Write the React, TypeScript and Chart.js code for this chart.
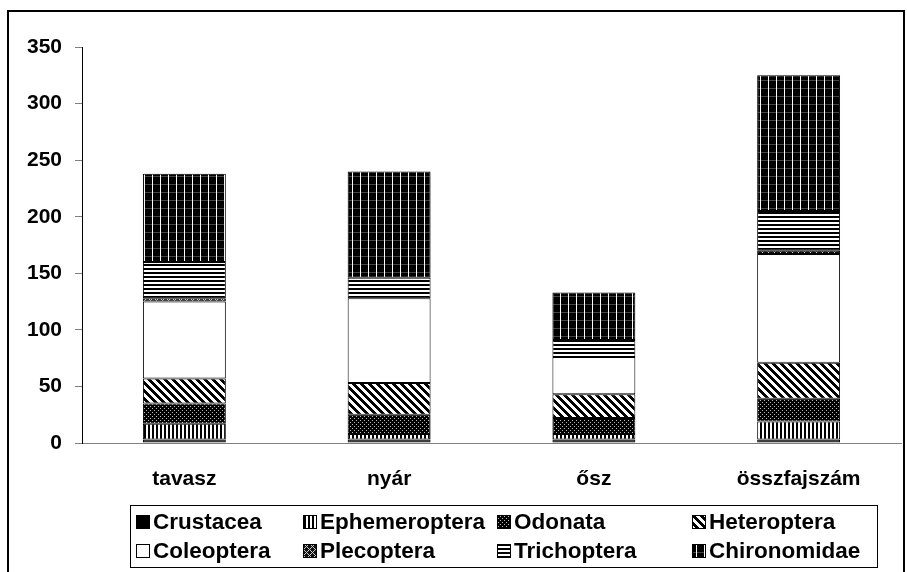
import React, { useEffect, useRef } from 'react';
import { Chart, registerables } from 'chart.js';

Chart.register(...registerables);

const categories = ['tavasz', 'nyár', 'ősz', 'összfajszám'];
const seriesNames = ['Crustacea', 'Ephemeroptera', 'Odonata', 'Heteroptera', 'Coleoptera', 'Plecoptera', 'Trichoptera', 'Chironomidae'];
const crustacea = [3, 3, 3, 3];
const ephemeroptera = [14, 5, 5, 16];
const odonata = [18, 17, 14, 20];
const heteroptera = [22, 28, 21, 32];
const coleoptera = [68, 75, 33, 96];
const plecoptera = [3, 0, 0, 3];
const trichoptera = [32, 18, 15, 35];
const chironomidae = [78, 94, 42, 120];
const yTickValues = [0, 50, 100, 150, 200, 250, 300, 350];

const seriesValues = [crustacea, ephemeroptera, odonata, heteroptera, coleoptera, plecoptera, trichoptera, chironomidae];

const FONT = '"Liberation Sans", Arial, sans-serif';

function makePattern(kind: string): CanvasPattern | string {
  const c = document.createElement('canvas');
  const ctx = c.getContext('2d')!;
  const px = (x: number, y: number, col: string) => { ctx.fillStyle = col; ctx.fillRect(x, y, 1, 1); };
  if (kind === 'solid') return '#000000';
  if (kind === 'white') return '#ffffff';
  if (kind === 'vert') {
    c.width = 4; c.height = 4;
    ctx.fillStyle = '#fff'; ctx.fillRect(0, 0, 4, 4);
    ctx.fillStyle = '#000'; ctx.fillRect(0, 0, 2, 4);
  } else if (kind === 'dots') {
    c.width = 4; c.height = 4;
    ctx.fillStyle = '#000'; ctx.fillRect(0, 0, 4, 4);
    px(0, 0, '#bbb'); px(2, 2, '#bbb');
  } else if (kind === 'diag') {
    c.width = 8; c.height = 8;
    for (let y = 0; y < 8; y++) for (let x = 0; x < 8; x++) {
      px(x, y, ((x - y + 16) % 8) < 4 ? '#000' : '#fff');
    }
  } else if (kind === 'check') {
    c.width = 6; c.height = 6;
    for (let y = 0; y < 6; y++) for (let x = 0; x < 6; x++) {
      const w = ((x + y) % 6 === 0) || (((x - y) + 12) % 6 === 0);
      px(x, y, w ? '#ccc' : '#111');
    }
  } else if (kind === 'horiz') {
    c.width = 4; c.height = 4;
    ctx.fillStyle = '#fff'; ctx.fillRect(0, 0, 4, 4);
    ctx.fillStyle = '#000'; ctx.fillRect(0, 0, 4, 2);
  } else if (kind === 'grid') {
    c.width = 8; c.height = 8;
    ctx.fillStyle = '#000'; ctx.fillRect(0, 0, 8, 8);
    ctx.fillStyle = '#444'; ctx.fillRect(0, 0, 8, 1);
    ctx.fillStyle = '#fff'; ctx.fillRect(0, 0, 1, 8);
  }
  const p = ctx.createPattern(c, 'repeat');
  return p || '#000';
}

const patternKinds = ['solid', 'vert', 'dots', 'diag', 'white', 'check', 'horiz', 'grid'];

export default function App() {
  const ref = useRef<HTMLCanvasElement | null>(null);
  useEffect(() => {
    if (!ref.current) return;
    const fills = patternKinds.map(makePattern);

    const framePlugin = {
      id: 'frame',
      beforeDraw(chart: any) {
        const ctx = chart.ctx;
        ctx.save();
        ctx.fillStyle = '#fff';
        ctx.fillRect(0, 0, chart.width, chart.height);
        ctx.strokeStyle = '#000';
        ctx.lineWidth = 2;
        ctx.strokeRect(8, 11, 896, 620);
        ctx.restore();
      },
      afterDraw(chart: any) {
        const ctx = chart.ctx;
        ctx.save();
        ctx.strokeStyle = '#000';
        ctx.lineWidth = 1;
        ctx.strokeRect(130.5, 505.5, 747, 62);
        const colX = [136, 303, 497, 692];
        const rowY = [522, 551];
        ctx.font = `bold 22.5px ${FONT}`;
        ctx.textBaseline = 'middle';
        ctx.textAlign = 'left';
        seriesNames.forEach((name, i) => {
          const sx = colX[i % 4];
          const sy = rowY[Math.floor(i / 4)];
          ctx.fillStyle = fills[i] as any;
          ctx.fillRect(sx, sy - 7, 14, 14);
          ctx.strokeStyle = '#000';
          ctx.strokeRect(sx + 0.5, sy - 6.5, 13, 13);
          ctx.fillStyle = '#000';
          ctx.fillText(name, sx + 17, sy + 1);
        });
        ctx.restore();
      },
    };

    const chart = new Chart(ref.current, {
      type: 'bar',
      data: {
        labels: categories,
        datasets: seriesNames.map((name, i) => ({
          label: name,
          data: seriesValues[i],
          backgroundColor: fills[i] as any,
          borderColor: '#000',
          borderWidth: 1,
          borderSkipped: false,
          categoryPercentage: 1,
          barPercentage: 0.405,
        })),
      },
      options: {
        animation: false,
        responsive: false,
        maintainAspectRatio: false,
        layout: { padding: { top: 47, right: 6, left: 0, bottom: 0 } },
        plugins: { legend: { display: false }, tooltip: { enabled: false } },
        scales: {
          x: {
            stacked: true,
            grid: { display: false },
            border: { display: true, color: '#808080', width: 1 },
            ticks: { color: '#000', padding: 16, font: { family: FONT, size: 21, weight: 'bold' } },
            afterFit: (s: any) => { s.height = 129; },
          },
          y: {
            stacked: true,
            min: 0,
            max: 350,
            afterBuildTicks: (s: any) => { s.ticks = yTickValues.map((v) => ({ value: v })); },
            grid: { display: true, drawOnChartArea: false, drawTicks: true, tickLength: 7, color: '#808080' },
            border: { display: true, color: '#000', width: 1 },
            ticks: { color: '#000', padding: 13, font: { family: FONT, size: 21, weight: 'bold' } },
            afterFit: (s: any) => { s.width = 82; },
          },
        },
      },
      plugins: [framePlugin],
    });
    return () => chart.destroy();
  }, []);

  return (
    <div style={{ position: 'fixed', left: 0, top: 0, width: 907, height: 572 }}>
      <canvas ref={ref} width={907} height={572} style={{ width: 907, height: 572, display: 'block' }} />
    </div>
  );
}
